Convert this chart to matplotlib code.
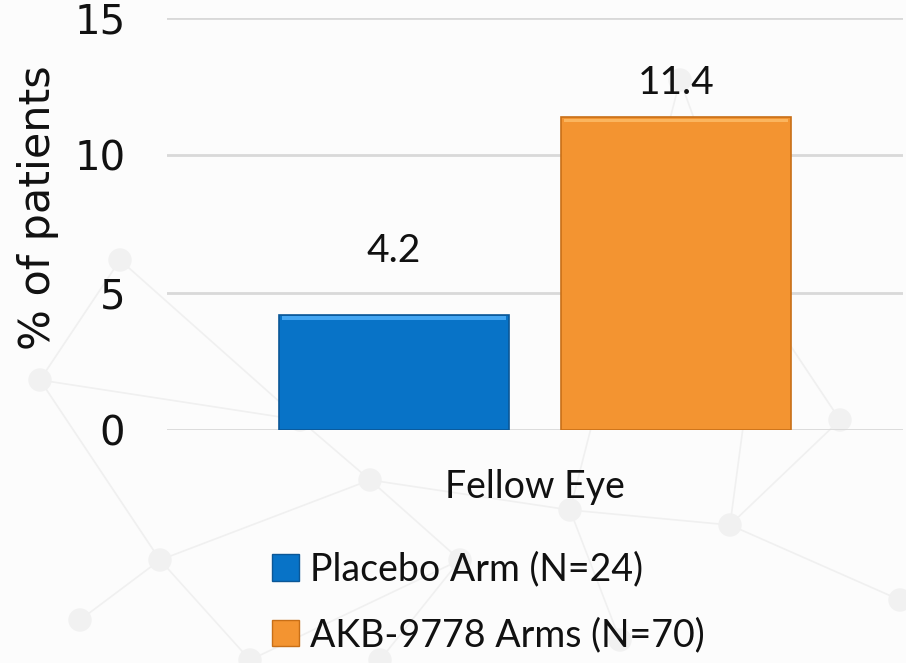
import matplotlib
matplotlib.use("Agg")
import matplotlib.pyplot as plt
from matplotlib.patches import Rectangle, Circle

# ---- data ----
categories = ["Fellow Eye"]
series_names = ["Placebo Arm (N=24)", "AKB-9778 Arms (N=70)"]
series_values = [[4.2], [11.4]]
y_ticks = [0, 5, 10, 15]

# ---- style ----
bar_colors = ["#0873c7", "#f39431"]
highlight_colors = ["#44a6f2", "#fbb55e"]
edge_colors = ["#0b5796", "#c86f17"]
label_offsets_px = [46, 16]  # gap between bar top and value label

W, H = 906, 663
fig = plt.figure(figsize=(W / 100, H / 100), dpi=100)
fig.patch.set_facecolor("#fcfcfc")

# faint network decoration in the background
bg = fig.add_axes([0, 0, 1, 1], zorder=-10)
bg.set_xlim(0, W)
bg.set_ylim(H, 0)
bg.axis("off")
nodes = [(40, 380), (120, 260), (160, 560), (80, 620), (370, 480), (460, 560),
         (570, 510), (730, 525), (680, 80), (840, 420), (250, 660), (900, 600),
         (380, 660), (620, 640), (300, 420), (760, 300)]
edges = [(0, 1), (0, 2), (2, 3), (2, 4), (4, 5), (4, 6), (6, 7), (7, 9), (6, 8),
         (5, 10), (2, 10), (7, 11), (5, 12), (6, 13), (4, 14), (1, 14), (7, 15),
         (9, 15), (8, 15), (0, 14)]
for a, b in edges:
    (x1, y1), (x2, y2) = nodes[a], nodes[b]
    bg.plot([x1, x2], [y1, y2], color="#f0f0f0", lw=1.2, zorder=0)
for (x, y) in nodes:
    bg.add_patch(Circle((x, y), 11, color="#f1f1f1", zorder=0))

ax = fig.add_axes([167 / W, 1 - 430 / H, 736 / W, 412 / H])
ax.set_facecolor("none")
ax.set_xlim(-0.5, 0.5)
ax.set_ylim(0, 15)
ax.set_yticks(y_ticks)
ax.set_yticklabels([str(t) for t in y_ticks], fontsize=29, family="DejaVu Sans",
                   color="#111111")
ax.yaxis.grid(True, color="#d9d9d9", lw=2)
ax.set_axisbelow(True)
for s in ax.spines.values():
    s.set_visible(False)
ax.tick_params(axis="y", length=0, pad=30)
ax.tick_params(axis="x", length=0, pad=28)
ax.set_xticks([0])
ax.set_xticklabels(categories, fontsize=27, family="Lato", color="#111111")
ax.set_ylabel("% of patients", fontsize=31, family="DejaVu Sans", color="#111111",
              labelpad=11, y=0.54)

offsets = [-0.1916, 0.1916]
width = 0.3125
for i, vals in enumerate(series_values):
    for j, v in enumerate(vals):
        x0 = j + offsets[i] - width / 2
        ax.add_patch(Rectangle((x0, 0), width, v, facecolor=bar_colors[i],
                               edgecolor=edge_colors[i], lw=1.2, zorder=3))
        # bevel highlight along the top edge
        ax.add_patch(Rectangle((x0 + 0.004, v - 0.2), width - 0.008, 0.14,
                               facecolor=highlight_colors[i], lw=0, zorder=4))
        ax.annotate(f"{v}", (j + offsets[i], v), xytext=(0, label_offsets_px[i]),
                    textcoords="offset pixels", ha="center", va="bottom",
                    fontsize=28, family="Lato", color="#111111")

handles = [Rectangle((0, 0), 1, 1, facecolor=bar_colors[i], edgecolor=edge_colors[i],
                     lw=1) for i in range(2)]
leg = fig.legend(handles, series_names, loc="upper left",
                 bbox_to_anchor=(238 / W, 1 - 518 / H), frameon=False,
                 prop={"family": "Lato", "size": 27}, handlelength=0.72,
                 handleheight=0.72, handletextpad=0.3, labelspacing=0.78)
for t in leg.get_texts():
    t.set_color("#111111")

fig.savefig("out.png", dpi=100, facecolor=fig.get_facecolor())
